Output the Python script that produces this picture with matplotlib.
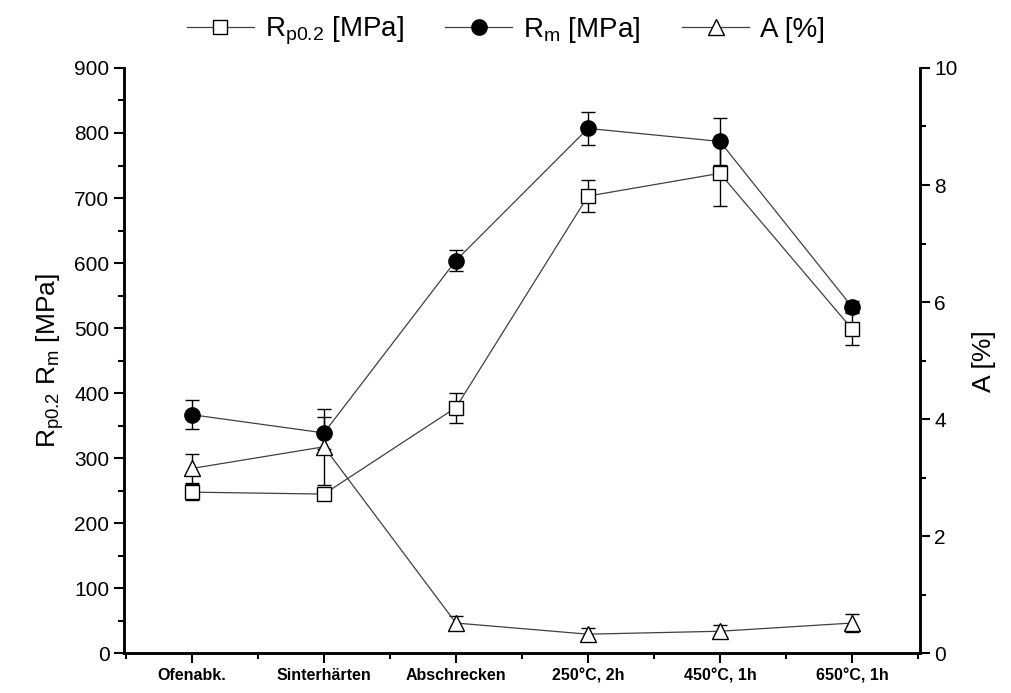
import matplotlib.pyplot as plt
from matplotlib.lines import Line2D
from matplotlib.ticker import MultipleLocator

plt.rcParams['font.family'] = ['Liberation Sans', 'DejaVu Sans']
plt.rcParams['mathtext.fontset'] = 'custom'
plt.rcParams['mathtext.rm'] = 'Liberation Sans'
plt.rcParams['mathtext.it'] = 'Liberation Sans'

# Wärmebehandlungszustände
states = ['Ofenabk.', 'Sinterhärten', 'Abschrecken', '250°C, 2h', '450°C, 1h', '650°C, 1h']

# Dehngrenze Rp0.2 [MPa]
rp02 = [248, 245, 378, 703, 738, 499]
rp02_err = [12, 8, 23, 24, 50, 25]

# Zugfestigkeit Rm [MPa]
rm = [367, 339, 604, 807, 787, 533]
rm_err = [22, 25, 16, 25, 36, 8]

# Bruchdehnung A [%]
a = [3.16, 3.53, 0.52, 0.33, 0.38, 0.52]
a_err = [0.24, 0.65, 0.12, 0.1, 0.1, 0.15]

x = list(range(1, len(states) + 1))

fig = plt.figure(figsize=(10.12, 6.93), dpi=100)
ax = fig.add_axes([0.1225, 0.057, 0.7865, 0.845])
ax2 = ax.twinx()

line_kw = dict(color='#404040', lw=0.9, ecolor='black', elinewidth=1.0, capsize=5, capthick=1.0)

ax.errorbar(x, rp02, yerr=rp02_err, marker='s', ms=9.5, mfc='white', mec='black', mew=1.0, zorder=3, **line_kw)
ax.errorbar(x, rm, yerr=rm_err, marker='o', ms=11, mfc='black', mec='black', zorder=4, **line_kw)
ax2.errorbar(x, a, yerr=a_err, marker='^', ms=11, mfc='white', mec='black', mew=1.0, **line_kw)

ax.set_xlim(0.485, 6.515)
ax.set_ylim(0, 900)
ax2.set_ylim(0, 10)

ax.set_xticks(x)
ax.set_xticklabels(states, fontsize=11.5, fontweight='bold')
ax.xaxis.set_minor_locator(MultipleLocator(0.5))
ax.yaxis.set_major_locator(MultipleLocator(100))
ax.yaxis.set_minor_locator(MultipleLocator(50))
ax2.yaxis.set_major_locator(MultipleLocator(2))
ax2.yaxis.set_minor_locator(MultipleLocator(1))

for axis in (ax, ax2):
    axis.tick_params(which='major', direction='out', length=7, width=1.5, labelsize=15)
    axis.tick_params(which='minor', direction='out', length=4, width=1.5)
    for s in axis.spines.values():
        s.set_linewidth(1.8)
    axis.spines['top'].set_visible(False)
ax.tick_params(axis='x', which='major', labelsize=11.5)

ax.set_ylabel(r'R$_{\mathrm{p0.2}}$ R$_{\mathrm{m}}$ [MPa]', fontsize=19, labelpad=6)
ax2.set_ylabel('A [%]', fontsize=19, labelpad=10)

# Legende nur mit Linie und Symbol
handles = [
    Line2D([], [], color='#404040', lw=0.9, marker='s', ms=9.5, mfc='white', mec='black'),
    Line2D([], [], color='#404040', lw=0.9, marker='o', ms=11, mfc='black', mec='black'),
    Line2D([], [], color='#404040', lw=0.9, marker='^', ms=11, mfc='white', mec='black'),
]
fig.legend(handles,
           [r'R$_{\mathrm{p0.2}}$ [MPa]', r'R$_{\mathrm{m}}$ [MPa]', 'A [%]'],
           loc='upper center', bbox_to_anchor=(0.5, 1.015), ncol=3, frameon=False,
           fontsize=20, handlelength=2.4, columnspacing=1.5, handletextpad=0.4)

fig.savefig('out.png', dpi=100)
